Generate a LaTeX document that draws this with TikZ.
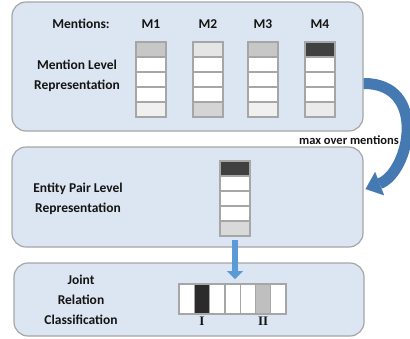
\documentclass[tikz,border=0pt]{standalone}
\usepackage{fontspec}
\setmainfont{Carlito}
\newfontfamily\romfont{Liberation Serif}
\usetikzlibrary{positioning,arrows.meta}

\definecolor{panelfill}{HTML}{DCE6F2}
\definecolor{panelline}{HTML}{A6A6A6}
\definecolor{cellline}{HTML}{A6A6A6}
\definecolor{bendblue}{HTML}{4579B2}
\definecolor{dropblue}{HTML}{5B9BD5}
\definecolor{txt}{HTML}{141414}

\begin{document}
\begin{tikzpicture}[x=1pt, y=-1pt,
    panel/.style={draw=panelline, line width=1.2pt, fill=panelfill, rounded corners=14pt, inner sep=0pt},
    cell/.style={draw=cellline, line width=1.3pt, fill=white, minimum width=30pt, minimum height=15pt, inner sep=0pt, outer sep=0pt},
    slot/.style={cell, minimum width=15.3pt, minimum height=30pt},
    lbl/.style={font=\fontsize{13.5}{20}\selectfont\bfseries, text=txt, align=center, inner sep=0pt}]
    \useasboundingbox (0,0) rectangle (410,338);

    % the three panels
    \node[panel, minimum width=351pt, minimum height=129pt] (top) at (187.5,66.5) {};
    \node[panel, minimum width=351pt, minimum height=100pt] (mid) at (187.5,197) {};
    \node[panel, minimum width=350pt, minimum height=73pt] (bot) at (189,299.5) {};

    % mention level
    \node[lbl] (ment) at (81,24) {Mentions:};
    \node[lbl] (mlev) at (77,76) {Mention Level\\Representation};
    \foreach \m/\x/\ca/\ce in {1/151/black!22/black!6, 2/208/black!10/black!17, 3/263/black!22/black!6, 4/320/black!75/black!8} {
        \node[lbl] (lab\m) at (\x,24) {M\m};
        \node[cell, fill=\ca] (m\m-1) at (\x,49.5) {};
        \node[cell, below=0pt of m\m-1] (m\m-2) {};
        \node[cell, below=0pt of m\m-2] (m\m-3) {};
        \node[cell, below=0pt of m\m-3] (m\m-4) {};
        \node[cell, fill=\ce, below=0pt of m\m-4] (m\m-5) {};
    }

    % entity pair level
    \node[lbl] (elev) at (78,198.5) {Entity Pair Level\\Representation};
    \node[cell, fill=black!75] (e-1) at (235,168.5) {};
    \node[cell, below=0pt of e-1] (e-2) {};
    \node[cell, below=0pt of e-2] (e-3) {};
    \node[cell, below=0pt of e-3] (e-4) {};
    \node[cell, fill=black!15, below=0pt of e-4] (e-5) {};

    % joint relation classification
    \node[lbl] (jrc) at (81,300) {Joint\\Relation\\Classification};
    \node[slot] (r-1) at (186.65,299) {};
    \node[slot, fill=black!83, right=0pt of r-1] (r-2) {};
    \node[slot, right=0pt of r-2] (r-3) {};
    \node[slot, right=0pt of r-3] (r-4) {};
    \node[slot, right=0pt of r-4] (r-5) {};
    \node[slot, fill=black!25, right=0pt of r-5] (r-6) {};
    \node[slot, right=0pt of r-6] (r-7) {};
    \node[lbl, font=\fontsize{13}{15}\selectfont\romfont\bfseries, below=3pt of r-2] (one) {I};
    \node[lbl, font=\fontsize{13}{15}\selectfont\romfont\bfseries, below=3pt of r-6] (two) {II};

    % arrows
    \draw[bendblue, line width=11pt, -{Triangle[width=25pt, length=15pt, line width=0.1pt]}]
        ([yshift=-17pt]top.east) .. controls (428,83) and (410,172) .. ([xshift=2pt, yshift=8pt]mid.east);
    \draw[dropblue, line width=6.5pt, -{Triangle[width=16pt, length=8pt, line width=0.1pt]}, shorten <=4pt, shorten >=5pt]
        (e-5.south) -- (e-5.south |- r-4.north);
    \node[lbl, font=\fontsize{12.5}{15}\selectfont\bfseries] (maxm) at (349,140) {max over mentions};
\end{tikzpicture}
\end{document}
